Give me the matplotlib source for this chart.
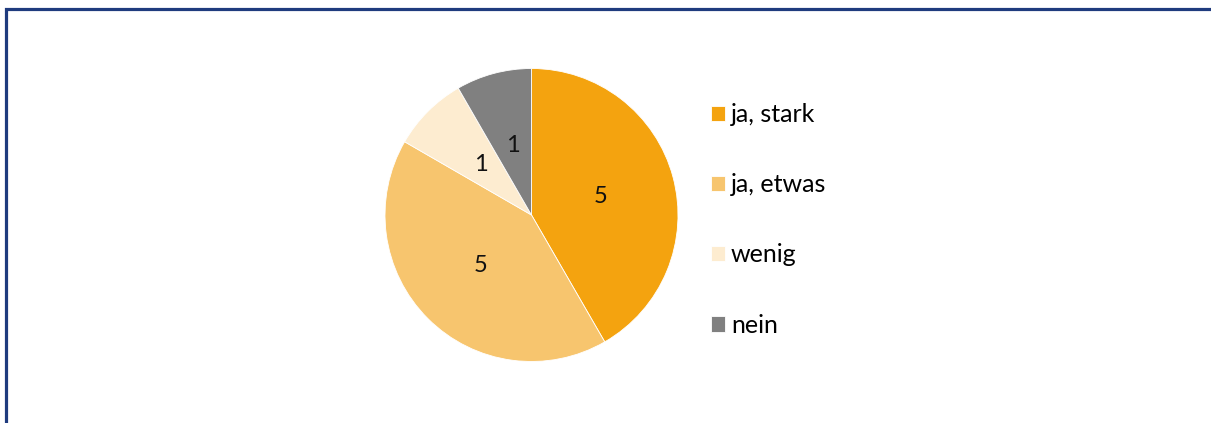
import matplotlib.pyplot as plt
from matplotlib.patches import Rectangle

categories = ['ja, stark', 'ja, etwas', 'wenig', 'nein']
counts = [5, 5, 1, 1]
colors = ['#F4A30F', '#F7C56E', '#FDECD0', '#808080']

plt.rcParams['font.family'] = ['Lato', 'DejaVu Sans']

W, H = 1211, 423
fig = plt.figure(figsize=(W / 100, H / 100), dpi=100)

# outer frame (runs off the right and bottom edge in the reference)
fig.patches.append(Rectangle((6 / W, -0.2), 1.2, 1.2 - 9.5 / H,
                             transform=fig.transFigure, fill=False,
                             edgecolor='#1F3B7E', linewidth=2.3))

cx, cy, r = 531.5, 215, 146.5
ax = fig.add_axes([(cx - r) / W, (H - cy - r) / H, 2 * r / W, 2 * r / H])
wedges, texts = ax.pie(counts, colors=colors, startangle=90, counterclock=False,
                       labels=[str(c) for c in counts], labeldistance=0.49,
                       wedgeprops=dict(edgecolor='white', linewidth=0.6),
                       textprops=dict(fontsize=17, color='#111111',
                                      ha='center', va='center'))
ax.set_xlim(-1, 1)
ax.set_ylim(-1, 1)
ax.set_aspect('equal')

leg = fig.legend(wedges, categories, loc='upper left',
                 bbox_to_anchor=(701 / W, 1 - 93 / H), frameon=False,
                 fontsize=18, handlelength=0.56, handleheight=0.56,
                 handletextpad=0.24, labelspacing=1.89, borderaxespad=0)

fig.savefig('out.png', dpi=100)
